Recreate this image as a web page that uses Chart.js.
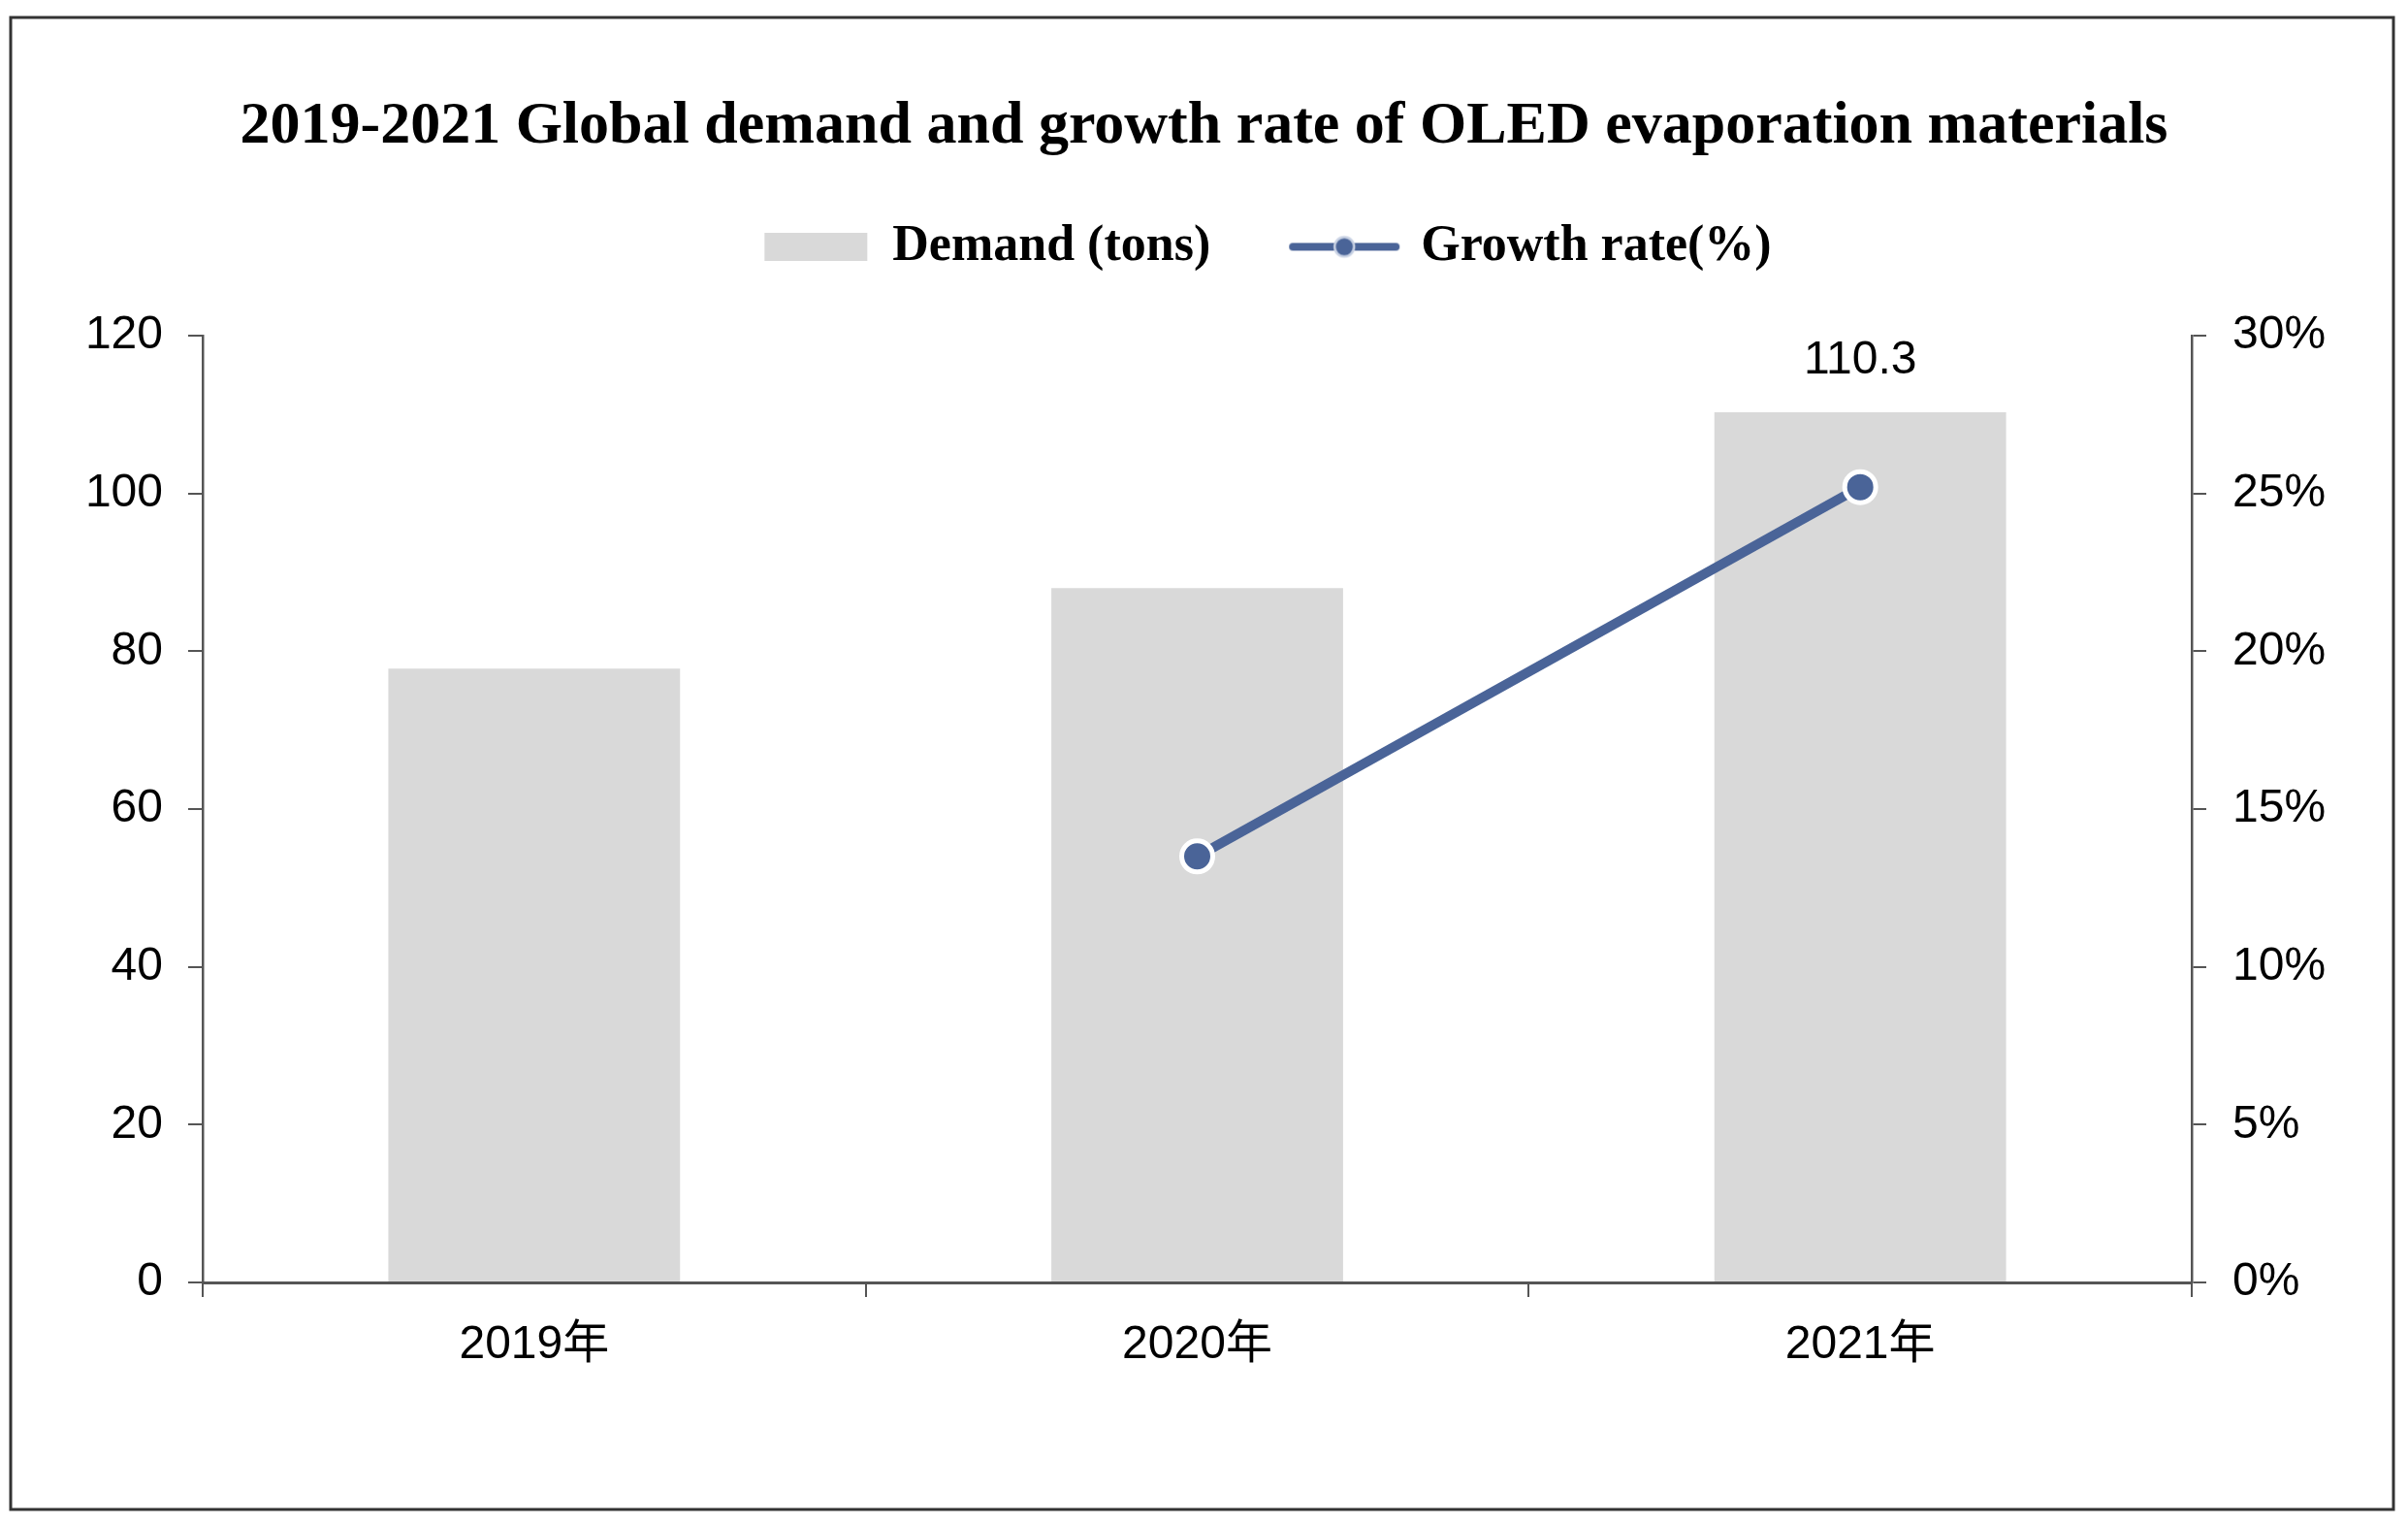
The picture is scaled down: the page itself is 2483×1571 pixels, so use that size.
<!DOCTYPE html>
<html>
<head>
<meta charset="utf-8">
<script src="https://cdn.jsdelivr.net/npm/chart.js@4.4.1/dist/chart.umd.min.js"></script>
<style>
  html, body { margin: 0; padding: 0; background: #ffffff; }
  #wrap { width: 2483px; height: 1571px; position: relative; }
  canvas { display: block; }
</style>
</head>
<body>
<div id="wrap"><canvas id="c" width="2483" height="1571"></canvas></div>
<script>
// ---- data ----
const categories = ['2019年', '2020年', '2021年'];
const demandTons = [77.8, 88.0, 110.3];
const growthRate = [null, 13.5, 25.2];
const barValueLabels = ['', '', '110.3'];
const titleText = '2019-2021 Global demand and growth rate of OLED evaporation materials';
const seriesNames = ['Demand (tons)', 'Growth rate(%)'];
const leftAxisMax = 120, leftAxisStep = 20;
const rightAxisMax = 30, rightAxisStep = 5;

// ---- styles ----
const barColor = '#d9d9d9';
const lineColor = '#4a6498';
const axisColor = '#555555';
const sansFont = "'Liberation Sans', Arial, 'Noto Sans CJK SC', sans-serif";
const serifFont = "'Liberation Serif', 'Times New Roman', serif";

Chart.defaults.font.family = sansFont;
Chart.defaults.color = '#000000';

// legend icon for the line series
const lineIcon = document.createElement('canvas');
lineIcon.width = 116; lineIcon.height = 26;
(function () {
  const g = lineIcon.getContext('2d');
  g.strokeStyle = lineColor; g.lineWidth = 8; g.lineCap = 'round';
  g.beginPath(); g.moveTo(5, 13); g.lineTo(111, 13); g.stroke();
  g.beginPath(); g.arc(58, 13, 10, 0, Math.PI * 2);
  g.fillStyle = lineColor; g.fill();
  g.lineWidth = 2.5; g.strokeStyle = '#c9d2e4'; g.stroke();
})();

const framePlugin = {
  id: 'frame',
  beforeDraw(chart) {
    const ctx = chart.ctx;
    ctx.save();
    ctx.fillStyle = '#ffffff';
    ctx.fillRect(0, 0, chart.width, chart.height);
    ctx.strokeStyle = '#333333';
    ctx.lineWidth = 3;
    ctx.strokeRect(11, 18, 2457, 1538);
    ctx.restore();
  }
};

const legendSpacing = {
  id: 'legendSpacing',
  beforeInit(chart) {
    const origFit = chart.legend.fit;
    chart.legend.fit = function () {
      origFit.bind(chart.legend)();
      this.height += 30.6;
    };
  },
  afterLayout(chart) {
    const lg = chart.legend;
    lg.top -= 25; lg.bottom -= 25;
    lg.left += 66; lg.right += 66;
  }
};

const valueLabels = {
  id: 'valueLabels',
  afterDatasetsDraw(chart) {
    const meta = chart.getDatasetMeta(0);
    const ctx = chart.ctx;
    ctx.save();
    ctx.font = '48px ' + sansFont;
    ctx.fillStyle = '#000000';
    ctx.textAlign = 'center';
    ctx.textBaseline = 'middle';
    meta.data.forEach((bar, i) => {
      if (barValueLabels[i]) ctx.fillText(barValueLabels[i], bar.x, bar.y - 53);
    });
    ctx.restore();
  }
};

new Chart(document.getElementById('c'), {
  type: 'bar',
  data: {
    labels: categories,
    datasets: [
      {
        type: 'bar',
        label: seriesNames[0],
        data: demandTons,
        backgroundColor: barColor,
        borderWidth: 0,
        yAxisID: 'y',
        order: 1,
        categoryPercentage: 1.0,
        barPercentage: 0.44
      },
      {
        type: 'line',
        label: seriesNames[1],
        data: growthRate,
        borderColor: lineColor,
        backgroundColor: lineColor,
        borderWidth: 10,
        pointRadius: 16,
        pointBorderWidth: 5,
        pointBackgroundColor: lineColor,
        pointBorderColor: '#ffffff',
        tension: 0,
        yAxisID: 'y1',
        order: 0
      }
    ]
  },
  options: {
    responsive: false,
    animation: false,
    devicePixelRatio: 1,
    layout: { padding: 0 },
    plugins: {
      tooltip: { enabled: false },
      title: {
        display: true,
        text: titleText,
        color: '#000000',
        font: { family: serifFont, size: 62, weight: 'bold', lineHeight: 1.2 },
        padding: { top: 94, bottom: 0 }
      },
      legend: {
        display: true,
        position: 'top',
        labels: {
          usePointStyle: true,
          pointStyleWidth: 106,
          boxHeight: 29,
          padding: 85,
          color: '#000000',
          font: { family: serifFont, size: 52, weight: 'bold' },
          sort: (a, b) => a.datasetIndex - b.datasetIndex,
          generateLabels(chart) {
            const items = Chart.defaults.plugins.legend.labels.generateLabels(chart);
            items.forEach(it => {
              if (it.datasetIndex === 0) {
                it.pointStyle = 'rect';
                it.fillStyle = barColor;
                it.strokeStyle = barColor;
                it.lineWidth = 0;
              } else {
                it.pointStyle = lineIcon;
              }
              it.fontColor = '#000000';
            });
            return items;
          }
        }
      }
    },
    scales: {
      x: {
        position: 'bottom',
        offset: true,
        grid: { display: true, offset: true, drawOnChartArea: false, drawTicks: true, tickLength: 15, color: axisColor, lineWidth: 2 },
        border: { display: true, color: axisColor, width: 3 },
        ticks: { color: '#000000', font: { size: 48 }, padding: 21, maxRotation: 0 },
        afterFit(scale) { scale.height = 249; }
      },
      y: {
        position: 'left',
        min: 0,
        max: leftAxisMax,
        grid: { drawOnChartArea: false, drawTicks: true, tickLength: 15, color: axisColor, lineWidth: 2 },
        border: { display: true, color: axisColor, width: 2.5 },
        ticks: { stepSize: leftAxisStep, color: '#000000', font: { size: 48 }, padding: 26 },
        afterFit(scale) { scale.width = 209; }
      },
      y1: {
        position: 'right',
        min: 0,
        max: rightAxisMax,
        grid: { drawOnChartArea: false, drawTicks: true, tickLength: 15, color: axisColor, lineWidth: 2 },
        border: { display: true, color: axisColor, width: 2.5 },
        ticks: { stepSize: rightAxisStep, color: '#000000', font: { size: 48 }, padding: 27, callback: v => v + '%' },
        afterFit(scale) { scale.width = 223; }
      }
    }
  },
  plugins: [framePlugin, legendSpacing, valueLabels]
});
</script>
</body>
</html>
